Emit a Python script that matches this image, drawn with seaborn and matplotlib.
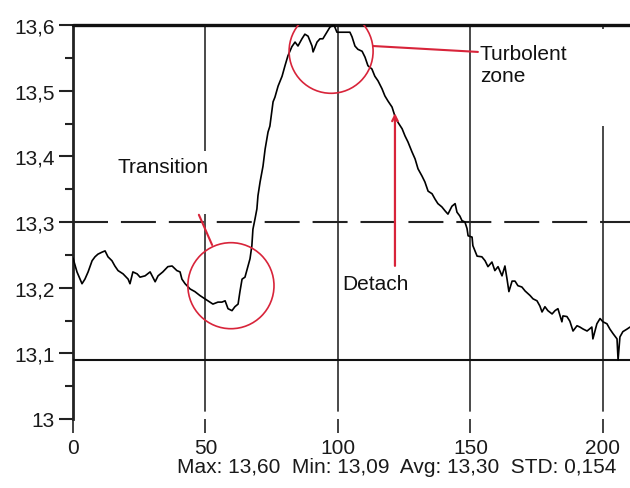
import numpy as np
import pandas as pd
import matplotlib
matplotlib.use("Agg")
import matplotlib.pyplot as plt
from matplotlib.patches import Ellipse, Rectangle
from matplotlib.ticker import AutoMinorLocator
import seaborn as sns

sns.set_theme(style="white")
plt.rcParams['font.family'] = ['Liberation Sans', 'DejaVu Sans']

# signal
x_vals = [0, 1.5, 3.4, 4.5, 5.7, 7.2, 8.3, 9.4, 10.9, 12.1, 13.2, 14.7, 15.8, 17.0, 18.9,
          20.8, 21.5, 22.6, 24.2, 25.3, 27.2, 29.1, 31.0, 32.1, 33.9, 35.8, 37.4, 39.2,
          40.4, 41.1, 42.3, 44.2, 46.0, 47.9, 49.8, 50.9, 52.8, 54.7, 56.2, 57.4, 58.5,
          60.0, 61.1, 62.3, 63.0, 63.8, 64.9, 66.0, 66.8, 67.5, 67.9, 68.7, 69.4, 69.8,
          70.6, 71.7, 72.5, 73.6, 74.3, 75.5, 76.2, 77.4, 78.9, 80.0, 81.1, 82.6, 83.8,
          84.9, 86.4, 87.5, 88.7, 90.2, 90.6, 92.1, 93.2, 94.3, 95.8, 97.0, 98.5, 99.6,
          100.8, 102.6, 104.5, 105.3, 106.4, 107.5, 109.1, 110.2, 111.3, 112.8, 113.9,
          115.1, 116.6, 117.7, 118.9, 120.4, 121.5, 122.6, 124.2, 125.3, 126.4, 127.9,
          129.1, 130.2, 131.7, 132.8, 134.0, 135.5, 136.6, 137.7, 139.2, 140.4, 141.5,
          143.0, 144.2, 144.9, 146.0, 146.8, 147.9, 148.7, 149.1, 150.6, 150.9, 152.5,
          154.3, 155.5, 156.6, 158.1, 159.2, 160.4, 161.9, 163.0, 163.8, 164.5, 165.7,
          166.8, 167.9, 169.4, 170.6, 171.7, 172.5, 173.6, 175.1, 176.2, 177.0, 178.1,
          179.2, 180.8, 181.9, 183.0, 184.5, 184.9, 186.4, 187.5, 188.7, 190.2, 191.3,
          192.5, 194.0, 195.8, 196.2, 197.7, 198.9, 200.0, 201.5, 202.6, 203.8, 205.3,
          205.7, 206.4, 207.5, 209.1, 210.2]
y_vals = [13.245, 13.224, 13.206, 13.213, 13.224, 13.241, 13.247, 13.251, 13.254, 13.256,
          13.247, 13.241, 13.233, 13.226, 13.221, 13.213, 13.206, 13.224, 13.221, 13.216,
          13.218, 13.224, 13.209, 13.218, 13.224, 13.232, 13.233, 13.226, 13.224, 13.213,
          13.206, 13.198, 13.194, 13.188, 13.183, 13.180, 13.175, 13.178, 13.178, 13.180,
          13.168, 13.165, 13.171, 13.175, 13.194, 13.213, 13.216, 13.232, 13.244, 13.264,
          13.289, 13.305, 13.320, 13.340, 13.361, 13.385, 13.411, 13.437, 13.446, 13.483,
          13.490, 13.507, 13.522, 13.538, 13.553, 13.567, 13.574, 13.568, 13.579, 13.586,
          13.583, 13.568, 13.559, 13.574, 13.579, 13.579, 13.589, 13.597, 13.600, 13.589,
          13.589, 13.589, 13.589, 13.582, 13.568, 13.563, 13.560, 13.551, 13.538, 13.533,
          13.522, 13.515, 13.503, 13.492, 13.484, 13.475, 13.461, 13.452, 13.442, 13.431,
          13.422, 13.407, 13.396, 13.381, 13.370, 13.361, 13.347, 13.343, 13.335, 13.328,
          13.323, 13.317, 13.312, 13.324, 13.328, 13.315, 13.309, 13.302, 13.300, 13.290,
          13.279, 13.277, 13.264, 13.248, 13.247, 13.241, 13.232, 13.239, 13.226, 13.232,
          13.218, 13.233, 13.213, 13.194, 13.210, 13.210, 13.203, 13.201, 13.195, 13.191,
          13.188, 13.183, 13.180, 13.172, 13.163, 13.171, 13.165, 13.160, 13.165, 13.168,
          13.148, 13.157, 13.156, 13.149, 13.134, 13.142, 13.140, 13.137, 13.134, 13.140,
          13.122, 13.145, 13.153, 13.148, 13.145, 13.137, 13.130, 13.122, 13.090, 13.125,
          13.133, 13.137, 13.140]

max_val = 13.60
min_val = 13.09
avg_val = 13.30
std_val = 0.154

xticks = [0, 50, 100, 150, 200]
yticks = [13.0, 13.1, 13.2, 13.3, 13.4, 13.5, 13.6]
ylabels = ['13', '13,1', '13,2', '13,3', '13,4', '13,5', '13,6']

df = pd.DataFrame({'x': x_vals, 'y': y_vals})

red = '#d8243a'
fig = plt.figure(figsize=(6.3, 4.89), dpi=100)
ax = fig.add_axes([73/630, 69/489, 557/630, 394/489])

for xv in xticks[1:]:
    ax.axvline(xv, ymin=0.02, ymax=1, color='#3c3c3c', lw=1.3, zorder=1)

# white boxes behind the labels break the grid lines
ax.add_patch(Rectangle((30, 13.312), 24, 0.096, facecolor='white', edgecolor='none', zorder=2))
ax.add_patch(Rectangle((152.8, 13.446), 50, 0.148, facecolor='white', edgecolor='none', zorder=2))

ax.axhline(max_val, color='#111111', lw=2.4, clip_on=False, zorder=3)
ax.axhline(min_val, color='#111111', lw=1.5, zorder=3)
ax.axhline(avg_val, color='#222222', lw=1.5, linestyle=(0, (16.8, 6.2)), zorder=3)

sns.lineplot(data=df, x='x', y='y', ax=ax, color='black', lw=1.2, zorder=4)

ax.set_xlim(0, 210.2)
ax.set_ylim(13.0, 13.6)
ax.set_xticks(xticks)
ax.set_xticklabels([str(v) for v in xticks])
ax.set_yticks(yticks)
ax.set_yticklabels(ylabels)
ax.yaxis.set_minor_locator(AutoMinorLocator(2))
ax.set_xlabel('')
ax.set_ylabel('')

for side in ['top', 'right', 'bottom']:
    ax.spines[side].set_visible(False)
ax.spines['left'].set_linewidth(2)
ax.spines['left'].set_color('#222222')

ax.tick_params(axis='y', which='major', direction='out', length=10, width=1.5,
               color='#222222', left=True, labelsize=15, pad=3, labelcolor='#1a1a1a')
ax.tick_params(axis='y', which='minor', direction='out', length=6, width=1.5,
               color='#222222', left=True)
ax.tick_params(axis='x', which='major', direction='out', length=10, width=1.3,
               color='#333333', bottom=True, labelsize=15, pad=4, labelcolor='#1a1a1a')

# red annotations
ax.add_patch(Ellipse((59.6, 13.203), 32.5, 0.131, fill=False, edgecolor=red, lw=1.2, zorder=5))
ax.add_patch(Ellipse((97.4, 13.560), 31.7, 0.128, fill=False, edgecolor=red, lw=1.2, zorder=5))
ax.plot([47.5, 52.5], [13.311, 13.265], color=red, lw=1.5, zorder=5)
ax.plot([113.2, 152.8], [13.568, 13.559], color=red, lw=1.5, zorder=5)
ax.annotate('', xy=(121.5, 13.470), xytext=(121.5, 13.229),
            arrowprops=dict(arrowstyle='->', color=red, lw=1.6, mutation_scale=10), zorder=5)

ax.text(34.0, 13.385, 'Transition', fontsize=15, ha='center', va='center', color='#111111', zorder=6)
ax.text(153.5, 13.540, 'Turbolent\nzone', fontsize=15, ha='left', va='center',
        linespacing=1.15, color='#111111', zorder=6)
ax.text(114.3, 13.206, 'Detach', fontsize=15, ha='center', va='center', color='#111111', zorder=6)

def fmt(v, nd):
    return f'{v:.{nd}f}'.replace('.', ',')

stats_text = (f'Max: {fmt(max_val, 2)}  Min: {fmt(min_val, 2)}  '
              f'Avg: {fmt(avg_val, 2)}  STD: {fmt(std_val, 3)}')
fig.text(177/630, 1 - 468/489, stats_text, fontsize=15, ha='left', va='center', color='#1a1a1a')

fig.savefig('out.png', dpi=100, facecolor='white')
